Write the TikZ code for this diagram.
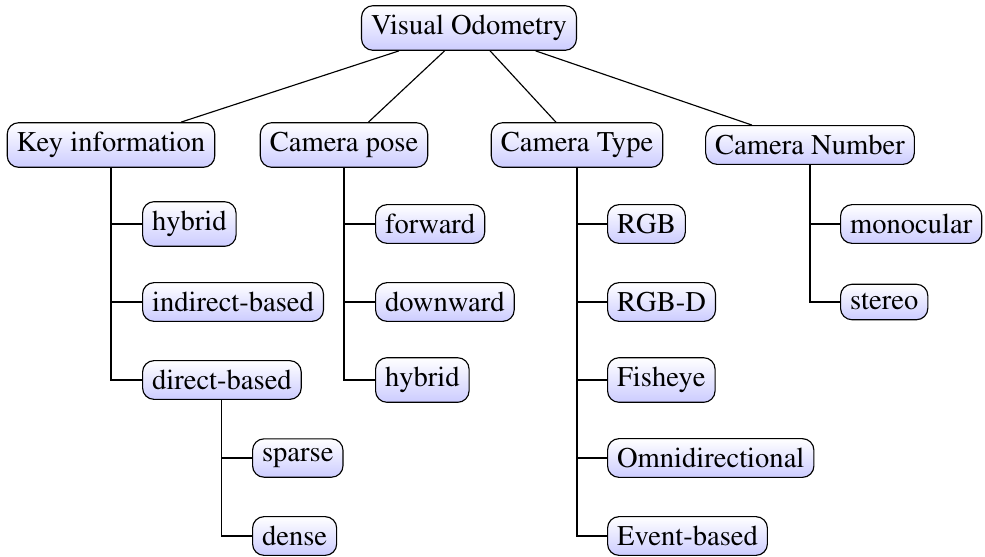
\documentclass[tikz,border=0pt]{standalone}
\usepackage[T1]{fontenc}
\usepackage{times}
\begin{document}
\begin{tikzpicture}[x=0.35pt, y=-0.35pt,
    box/.style={draw, rounded corners, top color=white, bottom color=blue!20},
    leaf/.style={box, anchor=west}]
    \useasboundingbox (0,0) rectangle (985,556);
    \node[box] (vo) at (469,28) {Visual Odometry};
    \node[box] (key) at (111,145) {Key information};
    \node[box] (pose) at (344,145) {Camera pose};
    \node[box] (type) at (577,145) {Camera Type};
    \node[box] (number) at (810,145) {Camera Number};
    \node[leaf] (keyhybrid) at (142,224) {hybrid};
    \node[leaf] (indirect) at (142,302) {indirect-based};
    \node[leaf] (direct) at (142,380) {direct-based};
    \node[leaf] (sparse) at (252,458) {sparse};
    \node[leaf] (dense) at (252,536) {dense};
    \node[leaf] (forward) at (375,224) {forward};
    \node[leaf] (downward) at (375,302) {downward};
    \node[leaf] (posehybrid) at (375,380) {hybrid};
    \node[leaf] (rgb) at (607,224) {RGB};
    \node[leaf] (rgbd) at (607,302) {RGB-D};
    \node[leaf] (fisheye) at (607,380) {Fisheye};
    \node[leaf] (omni) at (607,458) {Omnidirectional};
    \node[leaf] (event) at (607,536) {Event-based};
    \node[leaf] (mono) at (840,224) {monocular};
    \node[leaf] (stereo) at (840,302) {stereo};
    \draw (vo) -- (key);
    \draw (vo) -- (pose);
    \draw (vo) -- (type);
    \draw (vo) -- (number);
    \draw (key.south) |- (keyhybrid.west);
    \draw (key.south) |- (indirect.west);
    \draw (key.south) |- (direct.west);
    \draw (direct.south) |- (sparse.west);
    \draw (direct.south) |- (dense.west);
    \draw (pose.south) |- (forward.west);
    \draw (pose.south) |- (downward.west);
    \draw (pose.south) |- (posehybrid.west);
    \draw (type.south) |- (rgb.west);
    \draw (type.south) |- (rgbd.west);
    \draw (type.south) |- (fisheye.west);
    \draw (type.south) |- (omni.west);
    \draw (type.south) |- (event.west);
    \draw (number.south) |- (mono.west);
    \draw (number.south) |- (stereo.west);
\end{tikzpicture}
\end{document}
